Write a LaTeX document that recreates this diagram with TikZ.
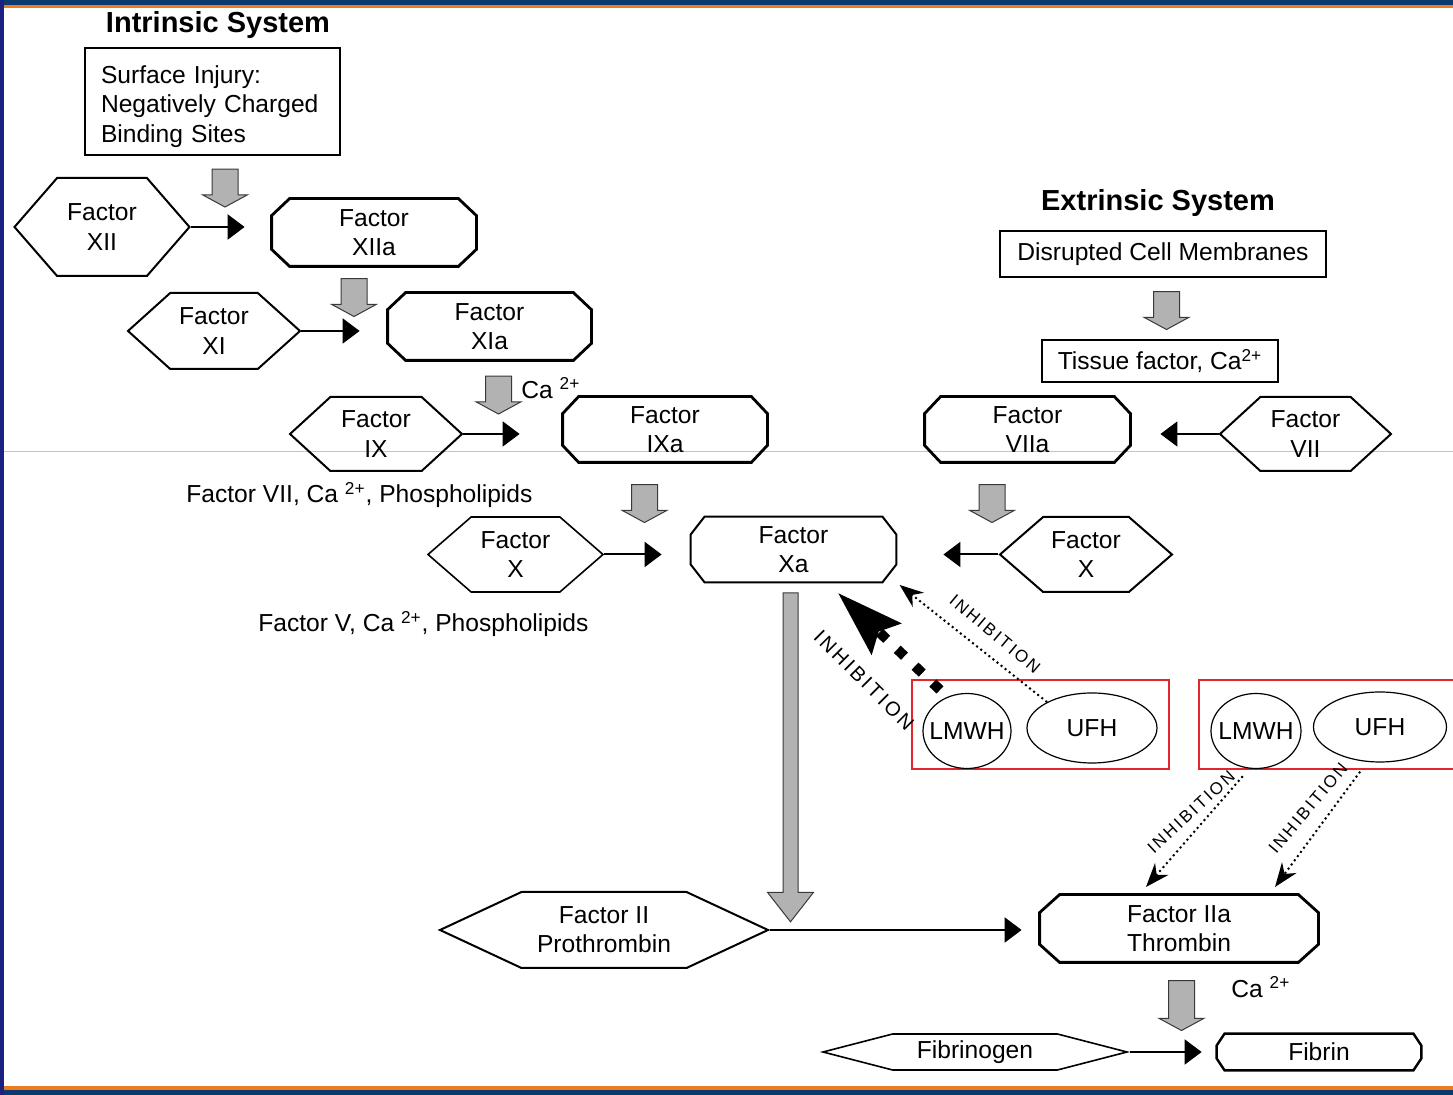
\documentclass[tikz,border=0pt]{standalone}
\usepackage{fontspec}
\setmainfont{Liberation Sans}
\newfontfamily\inhfont[LetterSpace=14]{Liberation Sans}
\usepackage{tikz}
\usetikzlibrary{arrows.meta,shapes.symbols,shapes.arrows,shapes.geometric}
\definecolor{slidenavy}{HTML}{0D3A6E}
\definecolor{slideblue}{HTML}{1B2180}
\definecolor{slideorange}{HTML}{F07A1E}
\definecolor{inhred}{HTML}{E2262B}
\definecolor{blockgrey}{HTML}{B2B2B2}
\definecolor{rulegrey}{HTML}{B8C4DE}
\newcommand{\catwo}{Ca \textsuperscript{2+}}

\begin{document}
\begin{tikzpicture}[x=0.5pt, y=-0.5pt,
  font=\fontsize{12.3}{14.6}\selectfont,
  title/.style={font=\fontsize{14.5}{17}\selectfont\bfseries, inner sep=0pt},
  txtbox/.style={draw, inner sep=0pt, align=center},
  hex/.style={signal, signal to=east and west, draw, align=center, inner sep=0pt, line width=1pt},
  oct/.style={align=center, inner sep=0pt},
  drug/.style={ellipse, draw, line width=0.6pt, inner sep=0pt},
  redbox/.style={draw=inhred, line width=1pt, inner sep=0pt},
  garr/.style={single arrow, draw=gray!45!black, line width=0.5pt, fill=blockgrey, rotate=-90, inner xsep=0pt, inner ysep=6.25pt, minimum width=22pt, minimum height=19pt, single arrow head extend=4.75pt, single arrow tip angle=123},
  arr/.style={-{Triangle[length=8.5pt, width=12.5pt]}, line width=1pt},
  inhbig/.style={-{Stealth[length=33pt, width=21pt, inset=5pt]}, line width=5pt, dash pattern=on 5pt off 7.25pt},
  inhdot/.style={-{Stealth[length=12pt, width=9pt]}, line width=1pt, dash pattern=on 1pt off 1.6pt},
  inhlabel/.style={font=\inhfont\fontsize{8.5}{10}\selectfont, inner sep=0pt}]
% slide frame
\useasboundingbox (0,0) rectangle (1453,1095);
\clip (0,0) rectangle (1453,1095);
\fill[slidenavy] (0,0) rectangle (1453,5);
\fill[slideorange] (0,5) rectangle (1453,8);
\fill[slideorange] (0,1086) rectangle (1453,1090);
\fill[slidenavy] (0,1090) rectangle (1453,1095);
\fill[slideblue] (0,0) rectangle (4,1095);
\draw[rulegrey, line width=0.5pt] (4,452) -- (1453,452);
% titles
\node[title] (intr) at (218,25) {Intrinsic System};
\node[title] (extr) at (1158,203) {Extrinsic System};
% intrinsic system
\node[txtbox, line width=1.4pt, align=left, text width=111.5pt, inner xsep=8pt, minimum height=53.5pt] (surf) at (212.5,101.5) {\rule{0pt}{14pt}Surface Injury:\\Negatively Charged\\Binding Sites};
\node[hex, minimum width=87.5pt, minimum height=49pt, signal pointer angle=98] (xii) at (102,227) {Factor\\XII};
\node[oct, minimum width=102pt, minimum height=33.5pt] (xiia) at (374,232.5) {Factor\\XIIa};
\node[hex, minimum width=86pt, minimum height=38pt, signal pointer angle=84] (xi) at (214,331) {Factor\\XI};
\node[oct, minimum width=101.5pt, minimum height=33.5pt] (xia) at (489.5,326.5) {Factor\\XIa};
\node[hex, minimum width=86pt, minimum height=37pt, signal pointer angle=85] (ix) at (376,434) {Factor\\IX};
\node[oct, minimum width=102pt, minimum height=32.5pt] (ixa) at (665,429.5) {Factor\\IXa};
\node[hex, minimum width=87.5pt, minimum height=37.5pt, signal pointer angle=82, line width=0.8pt] (xl) at (515.5,554.5) {Factor\\X};
\node[oct, minimum width=102.5pt, minimum height=32.5pt] (xa) at (793.5,549.5) {Factor\\Xa};
% cofactors
\node[inner sep=0pt, anchor=west] (caix) at (521,388) {\catwo};
\node[inner sep=0pt, anchor=west] (cofx) at (186,495) {Factor VII, \catwo, Phospholipids};
\node[inner sep=0pt, anchor=west] (cofii) at (258,624) {Factor V, \catwo, Phospholipids};
% extrinsic system
\node[txtbox, line width=1.4pt, minimum width=163pt, minimum height=23pt] (disr) at (1163,254) {Disrupted Cell Membranes};
\node[txtbox, line width=0.7pt, minimum width=118pt, minimum height=21pt] (tiss) at (1160,361) {Tissue factor, Ca\textsuperscript{2+}};
\node[oct, minimum width=102.5pt, minimum height=32.5pt] (viia) at (1027.5,429.5) {Factor\\VIIa};
\node[hex, minimum width=85.5pt, minimum height=37pt, signal pointer angle=85] (vii) at (1305.5,434) {Factor\\VII};
\node[hex, minimum width=86pt, minimum height=37.5pt, signal pointer angle=82] (xr) at (1086,554.5) {Factor\\X};
% common pathway
\node[hex, minimum width=164pt, minimum height=38pt, signal pointer angle=50] (ii) at (604,930) {Factor II\\Prothrombin};
\node[oct, minimum width=139pt, minimum height=33.5pt] (iia) at (1179,928.5) {Factor IIa\\Thrombin};
\node[inner sep=0pt, anchor=west] (caiia) at (1231,987) {\catwo};
\node[hex, minimum width=152pt, minimum height=18pt, signal pointer angle=29, line width=0.8pt] (fibg) at (975,1052) {Fibrinogen};
\node[oct, minimum width=102pt, minimum height=18pt] (fibr) at (1319,1052) {Fibrin};
% chamfered outlines
\foreach \n/\cx/\cy/\lw in {xiia/9/8.5/1.4, xia/9/8.5/1.4, ixa/8/8.5/1.4, xa/7/9/1, viia/8/8.5/1.4, iia/10/9/1.4, fibr/4/6/1.2}
  \draw[line width=\lw pt] ([xshift=\cx pt]\n.north west) -- ([xshift=-\cx pt]\n.north east) -- ([yshift=-\cy pt]\n.north east) -- ([yshift=\cy pt]\n.south east) -- ([xshift=-\cx pt]\n.south east) -- ([xshift=\cx pt]\n.south west) -- ([yshift=\cy pt]\n.south west) -- ([yshift=-\cy pt]\n.north west) -- cycle;
% heparins
\node[redbox, minimum width=128.5pt, minimum height=44.5pt] (grpa) at (1040.5,724.5) {};
\node[redbox, minimum width=131pt, minimum height=44.5pt] (grpb) at (1330,724.5) {};
\node[drug, minimum width=44pt, minimum height=37.5pt] (lmwha) at (967,731) {\makebox[0pt]{LMWH}};
\node[drug, minimum width=65pt, minimum height=35pt] (ufha) at (1092,728) {\makebox[0pt]{UFH}};
\node[drug, minimum width=45pt, minimum height=37.5pt] (lmwhb) at (1256,731) {\makebox[0pt]{LMWH}};
\node[drug, minimum width=66.5pt, minimum height=35pt] (ufhb) at (1380,727) {\makebox[0pt]{UFH}};
% block arrows
\node[garr] (gsurf) at (225,184.5) {};
\node[garr] (gxiia) at (354,294) {};
\node[garr] (gxia) at (498.5,391.5) {};
\node[garr] (gixa) at (644.5,500) {};
\node[garr] (gdisr) at (1166.5,307) {};
\node[garr] (gviia) at (992,500) {};
\node[garr, minimum height=25pt] (giia) at (1181.5,1002) {};
\node[garr, inner ysep=3.5pt, minimum width=22.5pt, minimum height=164.5pt, single arrow head extend=7.75pt, single arrow tip angle=76] (gxa) at (790.5,752.5) {};
% activation arrows
\draw[arr, line width=1.2pt, shorten >=13.5pt] (xii.east) -- (xii.east -| xiia.west);
\draw[arr, shorten >=14pt] (xi.east) -- (xi.east -| xia.west);
\draw[arr, shorten >=21.5pt] (ix.east) -- (ix.east -| ixa.west);
\draw[arr, shorten >=14.5pt] (xl.east) -- (xl.east -| xa.west);
\draw[arr, shorten >=15pt] (vii.west) -- (vii.west -| viia.east);
\draw[arr, shorten >=23.5pt] (xr.west) -- (xr.west -| xa.east);
\draw[arr, line width=1.2pt, shorten >=9pt] (ii.east) -- (ii.east -| iia.west);
\draw[arr, shorten >=7.5pt] (fibg.east) -- (fibg.east -| fibr.west);
% inhibition
\coordinate (tipa) at (838,593);
\coordinate (tipb) at (1146,887);
\coordinate (tipc) at (1275,887);
\draw[inhbig, shorten <=5pt] (lmwha.120) -- (tipa);
\draw[inhdot, shorten >=2pt] (ufha.150) -- (xa.south east);
\draw[inhdot, shorten <=5pt] (lmwhb.260) -- (tipb);
\draw[inhdot, shorten <=6pt] (ufhb.250) -- (tipc);
\node[inhlabel, font=\inhfont\fontsize{10}{12}\selectfont, rotate=-45] (inha) at (864,680) {INHIBITION};
\node[inhlabel, rotate=-40] (inhb) at (995,634) {INHIBITION};
\node[inhlabel, rotate=43] (inhc) at (1191,812) {INHIBITION};
\node[inhlabel, rotate=50] (inhd) at (1308,808) {INHIBITION};
\end{tikzpicture}
\end{document}
